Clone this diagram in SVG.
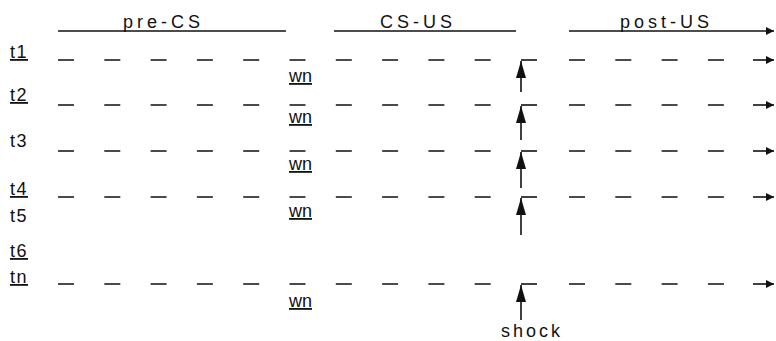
<svg xmlns="http://www.w3.org/2000/svg" width="776" height="341" viewBox="0 0 776 341">
  <style>
    .lbl { font-family: "Liberation Sans", Arial, sans-serif; font-size: 18px; fill: #111; }
    .hdr { letter-spacing: 4px; }
    .tl { letter-spacing: 1.5px; }
    .ul { text-decoration: underline; }
    .ln { stroke: #111; stroke-width: 1.6; fill: none; }
    .pre { stroke-dasharray: 16 30.3; }
    .post { stroke-dasharray: 16 30.3; }
  </style>
  <defs>
    <marker id="tip" markerUnits="userSpaceOnUse" markerWidth="10" markerHeight="10" refX="8" refY="5" orient="auto">
      <path d="M0,1 L8,5 L0,9 Z" fill="#111"/>
    </marker>
    <marker id="shockhead" markerUnits="userSpaceOnUse" markerWidth="18" markerHeight="12" refX="17" refY="6" orient="auto">
      <path d="M0,1 L17,6 L0,11 Z" fill="#111"/>
    </marker>
  </defs>

  <!-- period headers -->
  <g id="headers">
    <line class="ln" x1="58" y1="31" x2="286" y2="31"/>
    <text class="lbl hdr" x="123" y="28">pre-CS</text>
    <line class="ln" x1="334" y1="31" x2="516" y2="31"/>
    <text class="lbl hdr" x="380" y="28">CS-US</text>
    <line class="ln" x1="569" y1="31" x2="774" y2="31" marker-end="url(#tip)"/>
    <text class="lbl hdr" x="620" y="28">post-US</text>
  </g>

  <!-- trial labels -->
  <g id="trial-labels">
    <text class="lbl tl ul" x="10" y="58">t1</text>
    <text class="lbl tl ul" x="10" y="101">t2</text>
    <text class="lbl tl" x="10" y="147">t3</text>
    <text class="lbl tl ul" x="10" y="195">t4</text>
    <text class="lbl tl" x="10" y="222">t5</text>
    <text class="lbl tl ul" x="10" y="257">t6</text>
    <text class="lbl tl ul" x="10" y="283">tn</text>
  </g>

  <!-- warning-noise labels -->
  <g id="wn-labels">
    <text class="lbl ul" x="289" y="82">wn</text>
    <text class="lbl ul" x="289" y="123">wn</text>
    <text class="lbl ul" x="289" y="170">wn</text>
    <text class="lbl ul" x="289" y="217">wn</text>
    <text class="lbl ul" x="289" y="307">wn</text>
  </g>

  <!-- trial timelines -->
  <g id="connectors">
    <g id="row-t1">
      <line class="ln pre" x1="58" y1="60" x2="491" y2="60"/>
      <line class="ln" x1="521" y1="60" x2="537" y2="60"/>
      <line class="ln post" x1="569" y1="60" x2="724" y2="60"/>
      <line class="ln" x1="753" y1="60" x2="774" y2="60" marker-end="url(#tip)"/>
      <line class="ln" x1="521" y1="92" x2="521" y2="61" marker-end="url(#shockhead)"/>
    </g>
    <g id="row-t2">
      <line class="ln pre" x1="58" y1="105" x2="491" y2="105"/>
      <line class="ln" x1="521" y1="105" x2="537" y2="105"/>
      <line class="ln post" x1="569" y1="105" x2="724" y2="105"/>
      <line class="ln" x1="753" y1="105" x2="774" y2="105" marker-end="url(#tip)"/>
      <line class="ln" x1="521" y1="140" x2="521" y2="106" marker-end="url(#shockhead)"/>
    </g>
    <g id="row-t3">
      <line class="ln pre" x1="58" y1="151" x2="491" y2="151"/>
      <line class="ln" x1="521" y1="151" x2="537" y2="151"/>
      <line class="ln post" x1="569" y1="151" x2="724" y2="151"/>
      <line class="ln" x1="753" y1="151" x2="774" y2="151" marker-end="url(#tip)"/>
      <line class="ln" x1="521" y1="188" x2="521" y2="152" marker-end="url(#shockhead)"/>
    </g>
    <g id="row-t4">
      <line class="ln pre" x1="58" y1="197" x2="491" y2="197"/>
      <line class="ln" x1="521" y1="197" x2="537" y2="197"/>
      <line class="ln post" x1="569" y1="197" x2="724" y2="197"/>
      <line class="ln" x1="753" y1="197" x2="774" y2="197" marker-end="url(#tip)"/>
      <line class="ln" x1="521" y1="235" x2="521" y2="198" marker-end="url(#shockhead)"/>
    </g>
    <g id="row-tn">
      <line class="ln pre" x1="58" y1="284" x2="491" y2="284"/>
      <line class="ln" x1="521" y1="284" x2="537" y2="284"/>
      <line class="ln post" x1="569" y1="284" x2="724" y2="284"/>
      <line class="ln" x1="753" y1="284" x2="774" y2="284" marker-end="url(#tip)"/>
      <line class="ln" x1="521" y1="320" x2="521" y2="285" marker-end="url(#shockhead)"/>
    </g>
  </g>

  <g id="shock-label">
    <text class="lbl" x="501" y="337" style="letter-spacing:3px">shock</text>
  </g>
</svg>
